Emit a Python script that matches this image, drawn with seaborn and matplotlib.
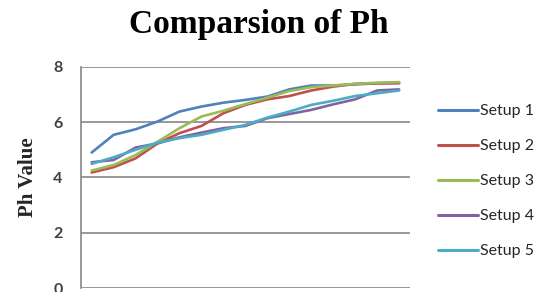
import matplotlib
matplotlib.use("Agg")
import matplotlib.pyplot as plt
import seaborn as sns
import pandas as pd

x_points = list(range(1, 16))
setup1 = [4.90, 5.54, 5.74, 6.02, 6.38, 6.56, 6.70, 6.80, 6.92, 7.18, 7.32, 7.32, 7.36, 7.40, 7.42]
setup2 = [4.18, 4.37, 4.69, 5.23, 5.60, 5.86, 6.32, 6.62, 6.82, 6.94, 7.14, 7.28, 7.38, 7.40, 7.40]
setup3 = [4.25, 4.45, 4.81, 5.29, 5.78, 6.20, 6.41, 6.65, 6.88, 7.12, 7.26, 7.32, 7.38, 7.42, 7.44]
setup4 = [4.55, 4.63, 5.08, 5.23, 5.45, 5.62, 5.78, 5.86, 6.14, 6.29, 6.44, 6.64, 6.82, 7.14, 7.18]
setup5 = [4.49, 4.73, 5.00, 5.26, 5.42, 5.54, 5.72, 5.90, 6.16, 6.38, 6.62, 6.77, 6.94, 7.04, 7.14]
series_names = ["Setup 1", "Setup 2", "Setup 3", "Setup 4", "Setup 5"]
colors = ["#4F81BD", "#C0504D", "#9BBB59", "#8064A2", "#4BACC6"]
y_ticks = [0, 2, 4, 6, 8]

rows = []
for name, vals in zip(series_names, [setup1, setup2, setup3, setup4, setup5]):
    for xv, yv in zip(x_points, vals):
        rows.append({"x": xv, "value": yv, "series": name})
df = pd.DataFrame(rows)

sns.set_style("white")
fig = plt.figure(figsize=(5.49, 2.92), dpi=100)
ax = fig.add_axes([0.147, 0.0127, 0.600, 0.759])

sns.lineplot(data=df, x="x", y="value", hue="series", palette=colors,
             hue_order=series_names, linewidth=1.9, ax=ax, legend=False)

ax.set_xlim(0.5, 15.5)
ax.set_ylim(0, 8)
ax.set_yticks(y_ticks)
ax.set_xticks([])
ax.grid(axis="y", color="#868686", linewidth=1.2)
ax.set_axisbelow(True)
for s in ["top", "right", "bottom"]:
    ax.spines[s].set_visible(False)
ax.spines["left"].set_color("#868686")
ax.spines["left"].set_linewidth(1.2)
ax.tick_params(axis="y", direction="out", length=5, width=1.2, color="#868686",
               labelsize=11.5, labelcolor="#404040", pad=8)
for lbl in ax.get_yticklabels():
    lbl.set_fontfamily("Lato")
    lbl.set_fontweight("bold")
ax.set_xlabel("")
ax.set_ylabel("Ph Value", fontfamily="Liberation Serif", fontweight="bold",
              fontsize=15, labelpad=11)

fig.text(0.472, 0.915, "Comparsion of Ph", ha="center", va="center",
         fontfamily="Liberation Serif", fontweight="bold", fontsize=24, color="black")

handles = [plt.Line2D([], [], color=c, linewidth=2.2) for c in colors]
leg = fig.legend(handles, series_names, loc="upper left",
                 bbox_to_anchor=(0.787, 0.665), frameon=False,
                 prop={"family": "Lato", "size": 11.5},
                 handlelength=2.5, handletextpad=0.1, labelspacing=1.3,
                 borderaxespad=0)
for t in leg.get_texts():
    t.set_color("#262626")

fig.savefig("out.png", dpi=100)
